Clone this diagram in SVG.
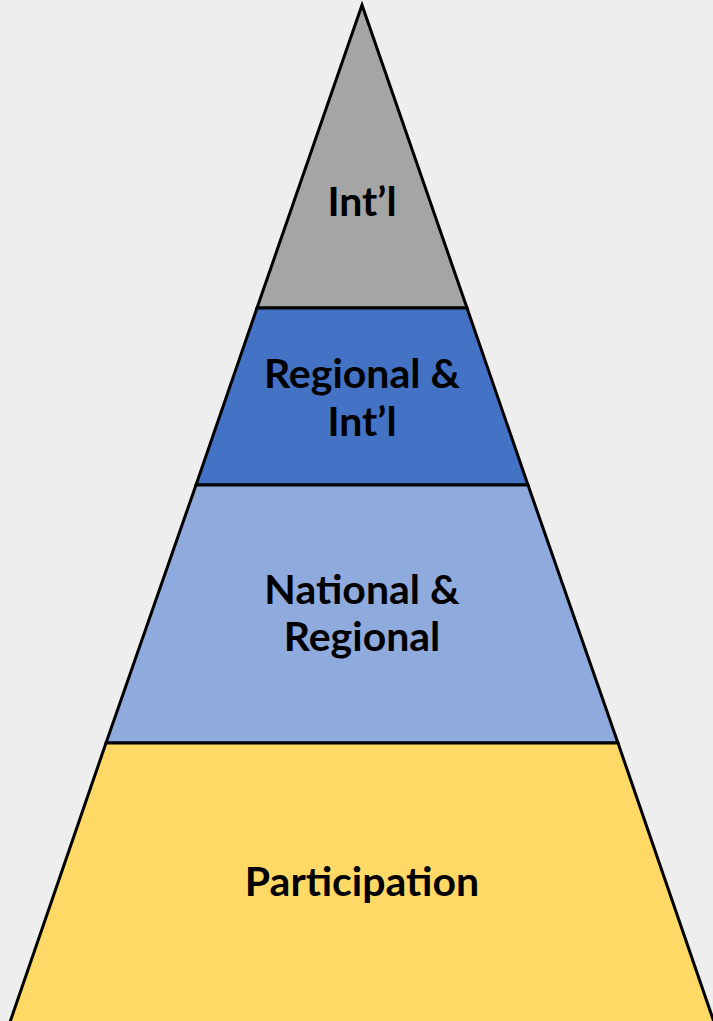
<svg xmlns="http://www.w3.org/2000/svg" width="713" height="1021" viewBox="0 0 713 1021">
  <style>
    .tier { stroke: #000; stroke-width: 3; stroke-linejoin: miter; }
    .label { font-family: Lato, "Open Sans", "Liberation Sans", sans-serif; font-weight: bold; font-size: 41px; fill: #000; text-anchor: middle; }
  </style>
  <rect width="713" height="1021" fill="#eeeeee"/>
  <!-- pyramid tiers, top to bottom -->
  <g id="tier-intl">
    <polygon class="tier" fill="#a5a5a5" points="362,5 467,308 257,308"/>
    <text class="label" x="362" y="216">Int’l</text>
  </g>
  <g id="tier-regional-intl">
    <polygon class="tier" fill="#4472c4" points="257,308 467,308 528,485 196,485"/>
    <text class="label" x="362" y="388">Regional &amp;</text>
    <text class="label" x="362" y="436">Int’l</text>
  </g>
  <g id="tier-national-regional">
    <polygon class="tier" fill="#8faadc" points="196,485 528,485 618,743 106,743"/>
    <text class="label" x="362" y="604">National &amp;</text>
    <text class="label" x="362" y="651">Regional</text>
  </g>
  <g id="tier-participation">
    <polygon class="tier" fill="#ffd966" points="106,743 618,743 715,1025 9,1025"/>
    <text class="label" x="362" y="896">Participation</text>
  </g>
  <g id="connectors"/>
</svg>
